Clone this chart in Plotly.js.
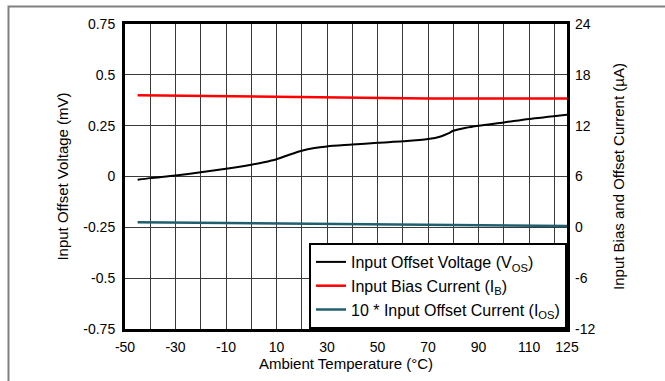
<!DOCTYPE html>
<html>
<head>
<meta charset="utf-8">
<script src="https://cdn.plot.ly/plotly-3.0.1.min.js"></script>
<style>html,body{margin:0;padding:0;background:#fff;}#chart{width:665px;height:381px;}</style>
</head>
<body>
<div id="chart"></div>
<script>
// Temperature (°C) and input offset voltage (mV)
const vosTemp = [-45, -40, -30, -20, -10, 0, 5, 10, 15, 20, 25, 30, 40, 50, 60, 70, 75, 78, 80, 85, 90, 100, 110, 125];
const vosValues = [-0.016, -0.008, 0.005, 0.021, 0.038, 0.058, 0.070, 0.085, 0.107, 0.127, 0.140, 0.148, 0.157, 0.166, 0.173, 0.184, 0.197, 0.212, 0.225, 0.240, 0.250, 0.266, 0.283, 0.304];
// Temperature (°C) and currents (µA)
const curTemp = [-45, -30, -10, 10, 30, 50, 70, 90, 110, 125];
const ibValues = [15.6, 15.55, 15.45, 15.35, 15.3, 15.25, 15.2, 15.2, 15.2, 15.2];
const ios10Values = [0.6, 0.56, 0.52, 0.47, 0.42, 0.36, 0.31, 0.26, 0.2, 0.15];
// Tick labels
const xTickVals = [-50, -30, -10, 10, 30, 50, 70, 90, 110, 125];
const xTickText = ['-50', '-30', '-10', '10', '30', '50', '70', '90', '110', '125'];
const xMinorVals = [-40, -20, 0, 20, 40, 60, 80, 100, 120];
const yTickVals = [0.75, 0.5, 0.25, 0, -0.25, -0.5, -0.75];
const yTickText = ['0.75', '0.5', '0.25', '0', '-0.25', '-0.5', '-0.75'];
const y2TickVals = [24, 18, 12, 6, 0, -6, -12];
const y2TickText = ['24', '18', '12', '6', '0', '-6', '-12'];

const FONT = 'Liberation Sans, Arial, sans-serif';

const traces = [
  {x: vosTemp, y: vosValues, type: 'scatter', mode: 'lines', name: 'Input Offset Voltage (V<sub>OS</sub>)',
   line: {color: '#000000', width: 2, shape: 'spline', smoothing: 0.8}, yaxis: 'y'},
  {x: curTemp, y: ibValues, type: 'scatter', mode: 'lines', name: 'Input Bias Current (I<sub>B</sub>)',
   line: {color: '#ff0000', width: 2.5}, yaxis: 'y2'},
  {x: curTemp, y: ios10Values, type: 'scatter', mode: 'lines', name: '10 * Input Offset Current (I<sub>OS</sub>)',
   line: {color: '#1f5f6e', width: 2.5}, yaxis: 'y2'}
];

const layout = {
  width: 665, height: 381,
  margin: {l: 125, r: 98, t: 24, b: 52},
  paper_bgcolor: '#ffffff', plot_bgcolor: '#ffffff',
  font: {family: FONT, size: 14, color: '#000'},
  showlegend: true,
  legend: {x: 1, y: 0, xanchor: 'right', yanchor: 'bottom', bgcolor: '#ffffff',
           bordercolor: '#000000', borderwidth: 2, font: {family: FONT, size: 16, color: '#000'},
           tracegroupgap: 0},
  xaxis: {range: [-50, 125], tickmode: 'array', tickvals: xTickVals, ticktext: xTickText,
          showgrid: true, gridcolor: '#3a3a3a', gridwidth: 1, zeroline: false,
          minor: {tickmode: 'array', tickvals: xMinorVals, showgrid: true, gridcolor: '#3a3a3a', gridwidth: 1, ticks: ''},
          showline: true, linecolor: '#000', linewidth: 3, mirror: true, ticks: '',
          ticklabelstandoff: 3,
          tickfont: {family: FONT, size: 14},
          title: {text: 'Ambient Temperature (°C)', font: {family: FONT, size: 15}, standoff: 0}},
  yaxis: {range: [-0.75, 0.75], tickmode: 'array', tickvals: yTickVals, ticktext: yTickText,
          showgrid: true, gridcolor: '#3a3a3a', gridwidth: 1, zeroline: false,
          showline: true, linecolor: '#000', linewidth: 3, mirror: true, ticks: '',
          ticklabelstandoff: 4,
          tickfont: {family: FONT, size: 14},
          title: {text: 'Input Offset Voltage (mV)', font: {family: FONT, size: 15}, standoff: 12}},
  yaxis2: {range: [-12, 24], overlaying: 'y', side: 'right', tickmode: 'array',
           tickvals: y2TickVals, ticktext: y2TickText, showgrid: false, zeroline: false,
           showline: false, ticks: '', ticklabelstandoff: 7,
           tickfont: {family: FONT, size: 14},
           title: {text: 'Input Bias and Offset Current (µA)', font: {family: FONT, size: 15}, standoff: 19}},
  shapes: [
    {type: 'rect', xref: 'paper', yref: 'paper', x0: -0.2636, x1: 1.3, y0: -0.3, y1: 1.0575,
     line: {color: '#808080', width: 2}, fillcolor: 'rgba(0,0,0,0)', layer: 'below'}
  ]
};

Plotly.newPlot('chart', traces, layout, {staticPlot: true, displayModeBar: false});
</script>
</body>
</html>
